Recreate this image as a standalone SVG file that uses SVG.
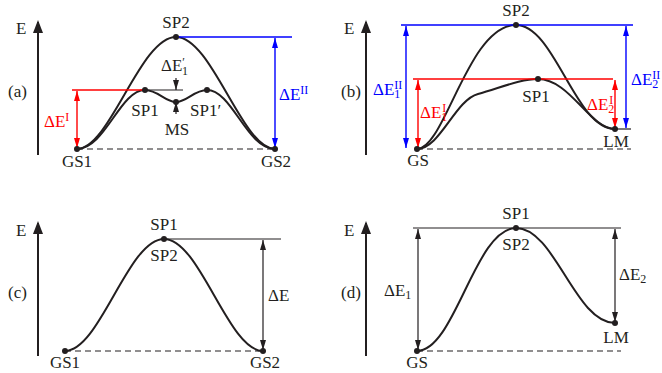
<svg xmlns="http://www.w3.org/2000/svg" width="662" height="373" viewBox="0 0 662 373">
<style>
text{font-family:"Liberation Serif","Times New Roman",serif;font-size:17px;fill:#231f20}
.mid{text-anchor:middle}
.s{font-size:12px}
.red{fill:#ff0000}
.blue{fill:#0000ff}
.curve{fill:none;stroke:#231f20;stroke-width:2}
.axis{fill:none;stroke:#231f20;stroke-width:2;marker-end:url(#ax)}
.thin{fill:none;stroke:#231f20;stroke-width:1.2}
.dash{fill:none;stroke:#231f20;stroke-width:1.2;stroke-dasharray:6 4}
.rl{fill:none;stroke:#ff0000;stroke-width:1.4}
.bl{fill:none;stroke:#0000ff;stroke-width:1.4}
.dk{marker-start:url(#hk);marker-end:url(#hk)}
.dr{marker-start:url(#hr);marker-end:url(#hr)}
.db{marker-start:url(#hb);marker-end:url(#hb)}
.dot{fill:#231f20}
</style>
<defs>
<marker id="ax" viewBox="0 0 13 10" refX="11" refY="5" markerWidth="13" markerHeight="10" markerUnits="userSpaceOnUse" orient="auto"><path d="M0,0 L13,5 L0,10 z" fill="#231f20"/></marker>
<marker id="hk" viewBox="0 0 10 6" refX="10" refY="3" markerWidth="10" markerHeight="6" markerUnits="userSpaceOnUse" orient="auto-start-reverse"><path d="M0,0 L10,3 L0,6 z" fill="#231f20"/></marker>
<marker id="hr" viewBox="0 0 10 6" refX="10" refY="3" markerWidth="10" markerHeight="6" markerUnits="userSpaceOnUse" orient="auto-start-reverse"><path d="M0,0 L10,3 L0,6 z" fill="#ff0000"/></marker>
<marker id="hb" viewBox="0 0 10 6" refX="10" refY="3" markerWidth="10" markerHeight="6" markerUnits="userSpaceOnUse" orient="auto-start-reverse"><path d="M0,0 L10,3 L0,6 z" fill="#0000ff"/></marker>
<marker id="hk1" viewBox="0 0 10 6" refX="10" refY="3" markerWidth="10" markerHeight="6" markerUnits="userSpaceOnUse" orient="auto"><path d="M0,0 L10,3 L0,6 z" fill="#231f20"/></marker>
</defs>

<!-- ============ connectors ============ -->
<g id="connectors">
  <!-- axes -->
  <path class="axis" d="M38,155 V22"/>
  <path class="axis" d="M366,155 V22"/>
  <path class="axis" d="M38,356 V223"/>
  <path class="axis" d="M366,356 V223"/>

  <!-- panel (a) -->
  <path class="dash" d="M77,149 H275"/>
  <path class="curve" d="M77,149 C110,149 140,37 176,37 C212,37 242,149 275,149"/>
  <path class="curve" d="M77,149 C105,149 120,90 145,90 C158,90 165,102 176,102 C187,102 194,90 207,90 C232,90 247,149 275,149"/>
  <path class="bl" d="M176,37 H292"/>
  <path class="bl db" d="M275,38 V148"/>
  <path class="rl" d="M72,90 H145"/>
  <path class="thin" d="M145,90 H183"/>
  <path class="rl dr" d="M77,91 V148"/>
  <path class="thin" d="M176,78 V90" style="marker-end:url(#hk1)"/>
  <path class="thin" d="M176,114 V102" style="marker-end:url(#hk1)"/>

  <!-- panel (b) -->
  <path class="dash" d="M417,149 H631"/>
  <path class="thin" d="M615,129 H631"/>
  <path class="curve" d="M417,149 C445,149 468,25 516,25 C555,25 575,129 615,129"/>
  <path class="curve" d="M417,149 C440,149 455,100 478,94 C500,88 520,79 538,79 C570,79 590,129 615,129"/>
  <path class="bl" d="M401,25 H633"/>
  <path class="bl db" d="M406,26 V148"/>
  <path class="bl db" d="M626,26 V128"/>
  <path class="rl" d="M413,79 H613"/>
  <path class="rl dr" d="M418,80 V148"/>
  <path class="rl dr" d="M615,80 V128"/>

  <!-- panel (c) -->
  <path class="dash" d="M65,351 H263"/>
  <path class="curve" d="M65,351 C100,351 128,239 164,239 C200,239 228,351 263,351"/>
  <path class="thin" d="M164,239 H281"/>
  <path class="thin dk" d="M263,240 V350"/>

  <!-- panel (d) -->
  <path class="dash" d="M417,351 H621"/>
  <path class="curve" d="M417,351 C455,351 475,228 516,228 C555,228 575,323 615,323"/>
  <path class="thin" d="M413,228 H621"/>
  <path class="thin dk" d="M418,229 V350"/>
  <path class="thin dk" d="M615,229 V322"/>
</g>

<!-- ============ panel labels ============ -->
<g id="axis-a"><text x="16" y="34">E</text><text x="8" y="97">(a)</text></g>
<g id="axis-b"><text x="344" y="34">E</text><text x="341" y="97">(b)</text></g>
<g id="axis-c"><text x="16" y="236">E</text><text x="8" y="298">(c)</text></g>
<g id="axis-d"><text x="344" y="236">E</text><text x="341" y="298">(d)</text></g>

<!-- ============ panel (a) nodes ============ -->
<g id="a-GS1"><circle class="dot" cx="77" cy="149" r="3"/><text class="mid" x="77" y="167">GS1</text></g>
<g id="a-GS2"><circle class="dot" cx="275" cy="149" r="3"/><text class="mid" x="276" y="167">GS2</text></g>
<g id="a-SP2"><circle class="dot" cx="176" cy="37" r="3"/><text class="mid" x="176" y="28">SP2</text></g>
<g id="a-SP1"><circle class="dot" cx="145" cy="90" r="3"/><text class="mid" x="145" y="116">SP1</text></g>
<g id="a-SP1p"><circle class="dot" cx="207" cy="90" r="3"/><text x="190" y="116">SP1′</text></g>
<g id="a-MS"><circle class="dot" cx="176" cy="102" r="3"/><text class="mid" x="177" y="135">MS</text></g>
<g id="a-dE1p"><text x="161" y="71">ΔE<tspan class="s" dy="-5">′</tspan><tspan class="s" dx="-3" dy="9">1</tspan></text></g>
<g id="a-dEI"><text class="red" x="44" y="127">ΔE<tspan class="s" dy="-6">I</tspan></text></g>
<g id="a-dEII"><text class="blue" x="279" y="100">ΔE<tspan class="s" dy="-6">II</tspan></text></g>

<!-- ============ panel (b) nodes ============ -->
<g id="b-GS"><circle class="dot" cx="417" cy="149" r="3"/><text class="mid" x="418" y="166">GS</text></g>
<g id="b-LM"><circle class="dot" cx="615" cy="129" r="3"/><text class="mid" x="616" y="147">LM</text></g>
<g id="b-SP2"><circle class="dot" cx="516" cy="25" r="3"/><text class="mid" x="516" y="16">SP2</text></g>
<g id="b-SP1"><circle class="dot" cx="538" cy="79" r="3"/><text class="mid" x="536" y="102">SP1</text></g>
<g id="b-dE1II"><text class="blue" x="373" y="95">ΔE<tspan class="s" dy="3">1</tspan><tspan class="s" dx="-6" dy="-9">II</tspan></text></g>
<g id="b-dE1I"><text class="red" x="420" y="118">ΔE<tspan class="s" dy="3">1</tspan><tspan class="s" dx="-5" dy="-9">I</tspan></text></g>
<g id="b-dE2I"><text class="red" x="587" y="110">ΔE<tspan class="s" dy="3">2</tspan><tspan class="s" dx="-5" dy="-9">I</tspan></text></g>
<g id="b-dE2II"><text class="blue" x="631" y="85">ΔE<tspan class="s" dy="3">2</tspan><tspan class="s" dx="-6" dy="-9">II</tspan></text></g>

<!-- ============ panel (c) nodes ============ -->
<g id="c-GS1"><circle class="dot" cx="65" cy="351" r="3"/><text class="mid" x="65" y="368">GS1</text></g>
<g id="c-GS2"><circle class="dot" cx="263" cy="351" r="3"/><text class="mid" x="265" y="368">GS2</text></g>
<g id="c-SP"><circle class="dot" cx="164" cy="239" r="3"/><text class="mid" x="164" y="230">SP1</text><text class="mid" x="164" y="261">SP2</text></g>
<g id="c-dE"><text x="268" y="301">ΔE</text></g>

<!-- ============ panel (d) nodes ============ -->
<g id="d-GS"><circle class="dot" cx="417" cy="351" r="3"/><text class="mid" x="417" y="368">GS</text></g>
<g id="d-LM"><circle class="dot" cx="615" cy="323" r="3"/><text class="mid" x="616" y="343">LM</text></g>
<g id="d-SP"><circle class="dot" cx="516" cy="228" r="3"/><text class="mid" x="516" y="219">SP1</text><text class="mid" x="516" y="250">SP2</text></g>
<g id="d-dE1"><text x="384" y="296">ΔE<tspan class="s" dy="3">1</tspan></text></g>
<g id="d-dE2"><text x="619" y="280">ΔE<tspan class="s" dy="3">2</tspan></text></g>
</svg>
